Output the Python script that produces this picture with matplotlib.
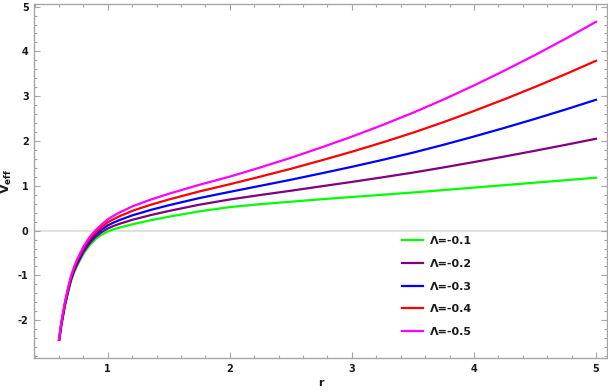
import numpy as np
import matplotlib
matplotlib.use("Agg")
import matplotlib.pyplot as plt
from matplotlib.ticker import MultipleLocator, FuncFormatter
from matplotlib.patches import Rectangle

# values
r = [0.59, 0.62, 0.65, 0.675, 0.70, 0.725, 0.75, 0.80, 0.85, 0.90, 0.95, 1.00,
     1.05, 1.10, 1.15, 1.20, 1.35, 1.50, 1.75, 2.00, 2.25, 2.50, 2.75, 3.00,
     3.25, 3.50, 3.75, 4.00, 4.25, 4.50, 4.75, 5.00]

v_01 = [-2.70, -2.12, -1.68, -1.38, -1.12, -0.93, -0.78, -0.52, -0.33, -0.19, -0.09, -0.02,
        0.03, 0.07, 0.105, 0.14, 0.23, 0.31, 0.43, 0.525, 0.59, 0.645, 0.70, 0.75,
        0.80, 0.85, 0.905, 0.96, 1.015, 1.07, 1.125, 1.18]
v_02 = [-2.68, -2.098, -1.655, -1.353, -1.09, -0.898, -0.745, -0.48, -0.285, -0.14, -0.033, 0.048,
        0.106, 0.155, 0.197, 0.24, 0.345, 0.438, 0.578, 0.695, 0.795, 0.89, 0.989, 1.087,
        1.189, 1.295, 1.41, 1.53, 1.654, 1.782, 1.914, 2.05]
v_03 = [-2.66, -2.076, -1.63, -1.326, -1.06, -0.866, -0.71, -0.44, -0.24, -0.09, 0.024, 0.116,
        0.182, 0.24, 0.289, 0.34, 0.46, 0.566, 0.726, 0.865, 1.00, 1.135, 1.278, 1.424,
        1.578, 1.74, 1.915, 2.10, 2.293, 2.494, 2.703, 2.92]
v_04 = [-2.64, -2.054, -1.605, -1.299, -1.03, -0.834, -0.675, -0.40, -0.195, -0.04, 0.081, 0.184,
        0.258, 0.325, 0.381, 0.44, 0.575, 0.694, 0.874, 1.035, 1.205, 1.38, 1.567, 1.761,
        1.967, 2.185, 2.42, 2.67, 2.932, 3.206, 3.492, 3.79]
v_05 = [-2.62, -2.032, -1.58, -1.272, -1.00, -0.802, -0.64, -0.36, -0.15, 0.01, 0.138, 0.252,
        0.334, 0.41, 0.473, 0.54, 0.69, 0.822, 1.022, 1.205, 1.41, 1.625, 1.856, 2.098,
        2.356, 2.63, 2.925, 3.24, 3.571, 3.918, 4.281, 4.66]

series = [v_01, v_02, v_03, v_04, v_05]
labels = ['Λ=-0.1', 'Λ=-0.2', 'Λ=-0.3', 'Λ=-0.4', 'Λ=-0.5']
colors = ['#00ff00', '#800080', '#0000ff', '#ff0000', '#ff00ff']
v_cut = -2.47  # lower end of the plotted curves

fig = plt.figure(figsize=(6.08, 3.92), dpi=100)
ax = fig.add_axes([0.0564, 0.086, 0.9415, 0.904])

ax.axhline(0, color='#dedede', lw=1.3, zorder=1)

clip = Rectangle((0, v_cut), 10, 20, transform=ax.transData)
for v, lab, c in zip(series, labels, colors):
    line, = ax.plot(r, v, color=c, lw=1.6, label=lab, zorder=2)
    line.set_clip_path(clip)

ax.set_xlim(0.398, 5.088)
ax.set_ylim(-2.85, 5.06)

ax.xaxis.set_major_locator(MultipleLocator(1))
ax.xaxis.set_minor_locator(MultipleLocator(0.2))
ax.yaxis.set_major_locator(MultipleLocator(1))
ax.yaxis.set_minor_locator(MultipleLocator(0.2))
fmt = FuncFormatter(lambda x, pos: f"{int(round(x))}")
ax.xaxis.set_major_formatter(fmt)
ax.yaxis.set_major_formatter(fmt)

frame_c = '#a6a6a6'
for s in ax.spines.values():
    s.set_color(frame_c)
    s.set_linewidth(1.0)
ax.tick_params(which='both', direction='in', top=True, right=True, color=frame_c,
               labelsize=7, labelcolor='#1a1a1a', width=0.8)
ax.tick_params(which='major', length=4, pad=4)
ax.tick_params(which='minor', length=2)
ax.tick_params(top=True, right=True, labeltop=False, labelright=False)
for t in ax.get_xticklabels() + ax.get_yticklabels():
    t.set_fontweight('bold')

ax.set_xlabel('r', fontsize=8, fontweight='bold', labelpad=3, color='#1a1a1a')
ax.set_ylabel(r'$\mathbf{V_{eff}}$', fontsize=9, labelpad=3, color='#1a1a1a')

leg = ax.legend(loc='upper left', bbox_to_anchor=(0.642, 0.345), frameon=False,
                fontsize=8, handlelength=1.9, handletextpad=0.6, labelspacing=1.15,
                borderpad=0, borderaxespad=0)
for t in leg.get_texts():
    t.set_fontweight('bold')
    t.set_color('#1a1a1a')

fig.savefig('out.png', dpi=100)
